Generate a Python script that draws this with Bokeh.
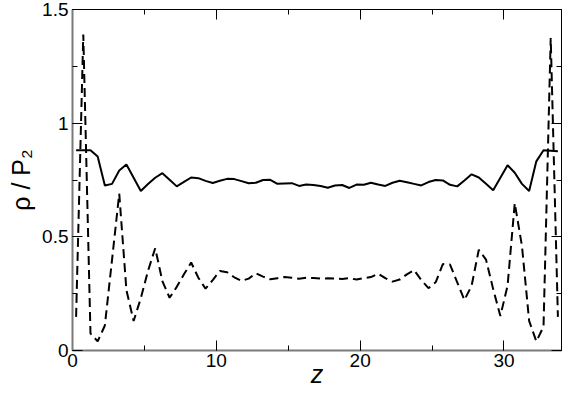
from bokeh.plotting import figure
from bokeh.models import LinearAxis, SingleIntervalTicker, Range1d, CustomJSTickFormatter
from bokeh.embed import file_html
from bokeh.resources import INLINE

# ---- data ----
z = [0.25, 0.75, 1.25, 1.75, 2.25, 2.75, 3.25, 3.75, 4.25, 4.75,
     5.25, 5.75, 6.25, 6.75, 7.25, 7.75, 8.25, 8.75, 9.25, 9.75,
     10.25, 10.75, 11.25, 11.75, 12.25, 12.75, 13.25, 13.75, 14.25, 14.75,
     15.25, 15.75, 16.25, 16.75, 17.25, 17.75, 18.25, 18.75, 19.25, 19.75,
     20.25, 20.75, 21.25, 21.75, 22.25, 22.75, 23.25, 23.75, 24.25, 24.75,
     25.25, 25.75, 26.25, 26.75, 27.25, 27.75, 28.25, 28.75, 29.25, 29.75,
     30.25, 30.75, 31.25, 31.75, 32.25, 32.75, 33.25, 33.75]

rho_solid = [0.881, 0.881, 0.881, 0.853, 0.726, 0.733, 0.792, 0.818, 0.760, 0.702,
             0.732, 0.760, 0.780, 0.751, 0.722, 0.742, 0.761, 0.758, 0.746, 0.737,
             0.747, 0.755, 0.754, 0.745, 0.736, 0.738, 0.750, 0.751, 0.733, 0.735,
             0.736, 0.724, 0.730, 0.728, 0.724, 0.716, 0.726, 0.728, 0.715, 0.730,
             0.729, 0.738, 0.730, 0.724, 0.738, 0.747, 0.740, 0.733, 0.726, 0.741,
             0.750, 0.748, 0.729, 0.722, 0.748, 0.775, 0.761, 0.733, 0.705, 0.760,
             0.815, 0.782, 0.733, 0.702, 0.832, 0.881, 0.879, 0.877]

rho_dashed = [0.148, 1.390, 0.075, 0.040, 0.110, 0.400, 0.690, 0.265, 0.130, 0.230,
              0.350, 0.450, 0.305, 0.232, 0.280, 0.335, 0.387, 0.320, 0.272, 0.310,
              0.350, 0.344, 0.322, 0.306, 0.316, 0.340, 0.325, 0.313, 0.318, 0.323,
              0.320, 0.316, 0.320, 0.319, 0.316, 0.318, 0.316, 0.315, 0.318, 0.312,
              0.318, 0.323, 0.338, 0.318, 0.303, 0.312, 0.335, 0.354, 0.310, 0.274,
              0.300, 0.380, 0.378, 0.300, 0.222, 0.285, 0.443, 0.400, 0.270, 0.152,
              0.285, 0.648, 0.460, 0.130, 0.040, 0.105, 1.375, 0.148]

y_ticks = [0, 0.5, 1, 1.5]
y_tick_labels = ["0", "0.5", "1", "1.5"]
x_label = "z"
y_label = "ρ / P₂"

FONT = "Liberation Sans"

p = figure(width=565, height=390, output_backend="svg", toolbar_location=None,
           x_range=Range1d(0, 34), y_range=Range1d(0, 1.5),
           min_border_left=72, min_border_right=4, min_border_top=9, min_border_bottom=40)
p.grid.visible = False
p.outline_line_color = "black"
p.outline_line_width = 1
p.background_fill_color = "white"
p.border_fill_color = "white"

p.add_layout(LinearAxis(), "above")
p.add_layout(LinearAxis(), "right")

for ax in p.xaxis:
    ax.ticker = SingleIntervalTicker(interval=10, num_minor_ticks=2)
for ax in p.yaxis:
    ax.ticker = SingleIntervalTicker(interval=0.5, num_minor_ticks=2)

for ax in list(p.xaxis) + list(p.yaxis):
    ax.major_tick_in = 10
    ax.major_tick_out = 0
    ax.minor_tick_in = 5
    ax.minor_tick_out = 0
    ax.major_tick_line_color = "black"
    ax.minor_tick_line_color = "black"
    ax.major_label_text_font = FONT
    ax.major_label_text_font_size = "19px"
    ax.major_label_text_color = "black"
    ax.axis_line_color = "black"

bottom, left = p.below[0], p.left[0]
bottom.axis_line_color = "#7a7a7a"
bottom.axis_line_width = 2
left.axis_line_color = "#7a7a7a"
left.axis_line_width = 2
bottom.major_label_standoff = 3
left.major_label_standoff = 4
left.major_label_overrides = {t: s for t, s in zip(y_ticks, y_tick_labels)}

bottom.axis_label = x_label
bottom.axis_label_text_font = FONT
bottom.axis_label_text_font_size = "25px"
bottom.axis_label_text_font_style = "italic"
bottom.axis_label_text_color = "black"
bottom.axis_label_standoff = -10

left.axis_label = y_label
left.axis_label_text_font = FONT
left.axis_label_text_font_size = "25px"
left.axis_label_text_font_style = "normal"
left.axis_label_text_color = "black"
left.axis_label_standoff = 4

for ax in (p.above[0], p.right[0]):
    ax.formatter = CustomJSTickFormatter(code="return ''")
    ax.major_label_standoff = 0

p.line(z, rho_solid, line_color="black", line_width=2)
p.line(z, rho_dashed, line_color="black", line_width=2, line_dash="9 5")

open("out.html", "w").write(file_html(p, INLINE))
